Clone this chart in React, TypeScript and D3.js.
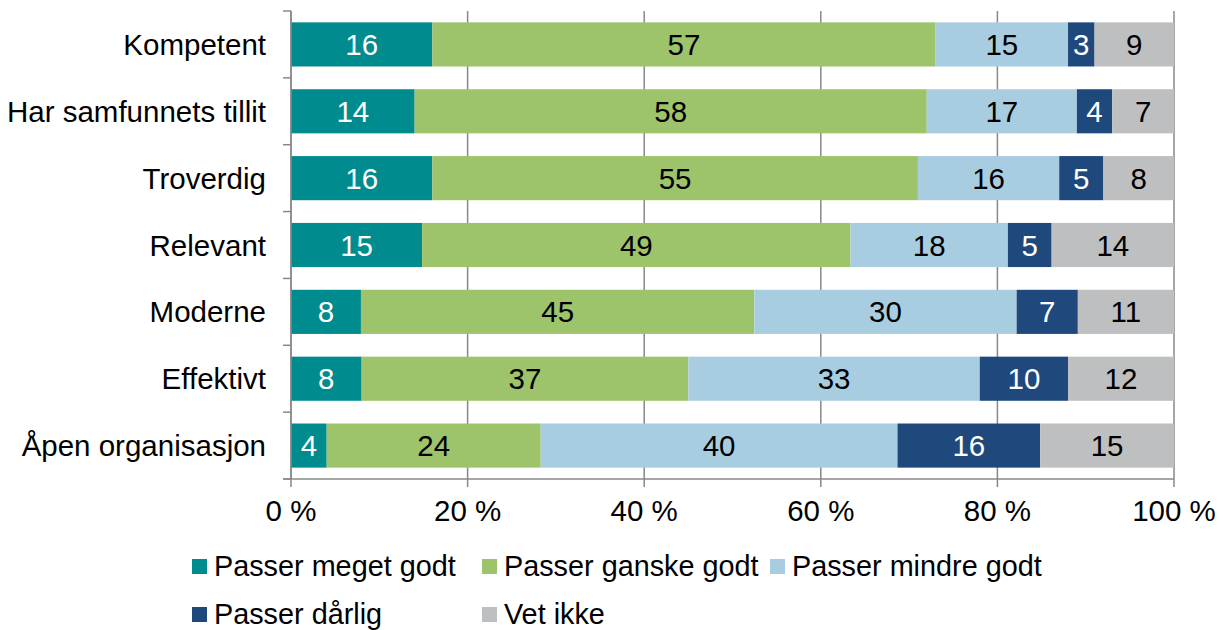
import React from 'react';
import * as d3 from 'd3';

const categories = ['Kompetent', 'Har samfunnets tillit', 'Troverdig', 'Relevant', 'Moderne', 'Effektivt', 'Åpen organisasjon'];
const seriesNames = ['Passer meget godt', 'Passer ganske godt', 'Passer mindre godt', 'Passer dårlig', 'Vet ikke'];
const meget = [16, 14, 16, 15, 8, 8, 4];
const ganske = [57, 58, 55, 49, 45, 37, 24];
const mindre = [15, 17, 16, 18, 30, 33, 40];
const darlig = [3, 4, 5, 5, 7, 10, 16];
const vetIkke = [9, 7, 8, 14, 11, 12, 15];
const xTicks = [0, 20, 40, 60, 80, 100];

const colors = ['#008b8f', '#9dc36b', '#a9cde0', '#1f497d', '#bebfc1'];
const labelColors = ['#fff', '#000', '#000', '#fff', '#000'];

const W = 1223;
const H = 630;
const margin = { top: 11, right: 49, bottom: 151, left: 291 };
const font = '"Liberation Sans", Arial, sans-serif';
const fs = 29.5;

export default function App() {
  const series = [meget, ganske, mindre, darlig, vetIkke];
  const rows = categories.map((c, i) => {
    const vals = series.map(s => s[i]);
    const total = d3.sum(vals);
    let acc = 0;
    return vals.map((v, k) => {
      const x0 = (acc / total) * 100;
      acc += v;
      return { cat: c, k, v, x0, x1: (acc / total) * 100 };
    });
  });

  const x = d3.scaleLinear().domain([0, 100]).range([margin.left, W - margin.right]);
  const y = d3.scaleBand().domain(categories).range([margin.top, H - margin.bottom]).paddingInner(0.34).paddingOuter(0.17);
  const step = y.step();
  const bottom = H - margin.bottom;
  const grid = '#888888';

  const legendPos = [
    [192, 566], [482, 566], [770, 566], [192, 614], [482, 614],
  ];

  return (
    <svg width={W} height={H} style={{ position: 'absolute', left: 0, top: 0, fontFamily: font }}>
      <rect width={W} height={H} fill="#fff" />
      {xTicks.map(t => (
        <g key={t}>
          <line x1={x(t)} x2={x(t)} y1={margin.top} y2={bottom + 8} stroke={grid} strokeWidth={1.5} />
          <text x={x(t)} y={bottom + 42} textAnchor="middle" fontSize={fs} fill="#000">{`${t} %`}</text>
        </g>
      ))}
      {rows.map(r => r.map(d => (
        <rect key={d.cat + d.k} x={x(d.x0)} width={x(d.x1) - x(d.x0)} y={y(d.cat)} height={y.bandwidth()} fill={colors[d.k]} />
      )))}
      {rows.map(r => r.map(d => (
        <text key={'l' + d.cat + d.k} x={(x(d.x0) + x(d.x1)) / 2} y={(y(d.cat) as number) + y.bandwidth() / 2} dy="0.36em"
          textAnchor="middle" fontSize={fs} fill={labelColors[d.k]}>{d.v}</text>
      )))}
      <line x1={x(0)} x2={x(0)} y1={margin.top} y2={bottom} stroke={grid} strokeWidth={1.5} />
      <line x1={x(0) - 8} x2={x(100)} y1={bottom} y2={bottom} stroke={grid} strokeWidth={1.5} />
      {d3.range(categories.length + 1).map(i => (
        <line key={i} x1={x(0) - 8} x2={x(0)} y1={margin.top + i * step} y2={margin.top + i * step} stroke={grid} strokeWidth={1.5} />
      ))}
      {categories.map(c => (
        <text key={c} x={x(0) - 25} y={(y(c) as number) + y.bandwidth() / 2} dy="0.36em" textAnchor="end" fontSize={fs} fill="#000">{c}</text>
      ))}
      {seriesNames.map((n, k) => (
        <g key={n} transform={`translate(${legendPos[k][0]},${legendPos[k][1]})`}>
          <rect x={0} y={-7} width={15} height={15} fill={colors[k]} />
          <text x={22} y={0} dy="0.36em" fontSize={28.8} fill="#000">{n}</text>
        </g>
      ))}
    </svg>
  );
}
